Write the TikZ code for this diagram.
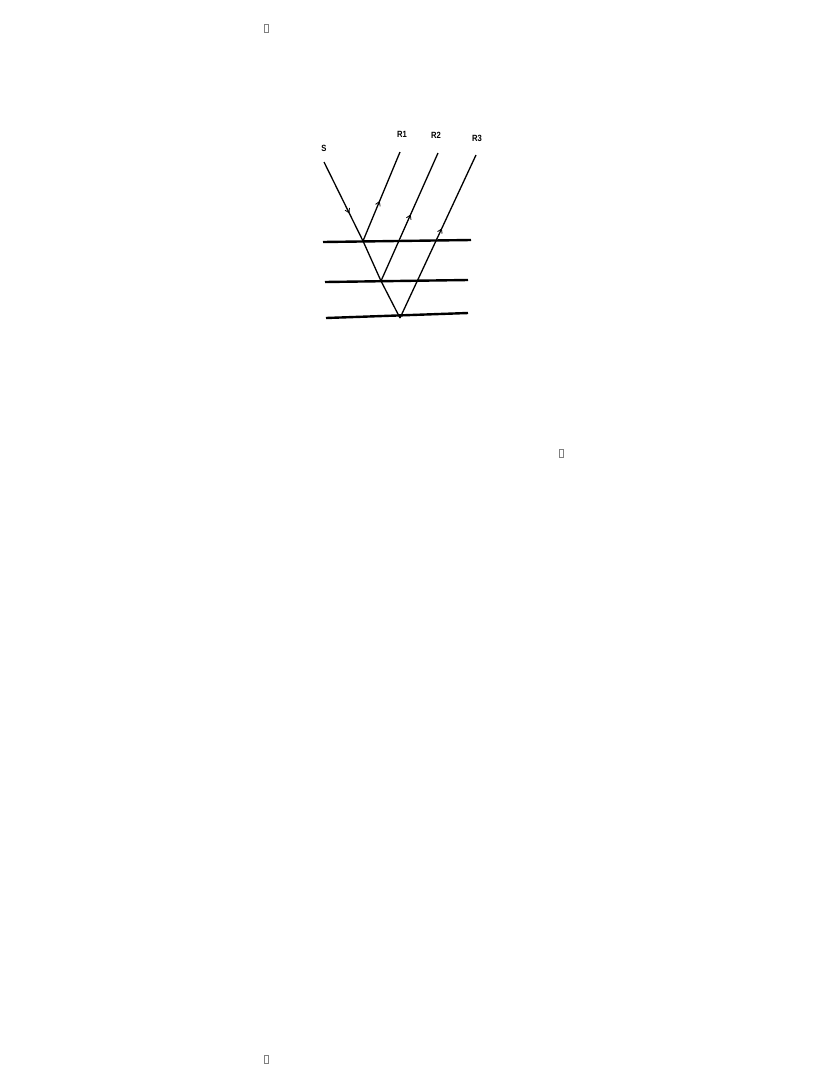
\documentclass[tikz,border=0pt]{standalone}
\usepackage{fontspec}
\setmainfont{Liberation Sans}
\usetikzlibrary{decorations.markings,arrows.meta}
\begin{document}
\begin{tikzpicture}[x=1pt,y=-1pt,
  ray/.style={line width=1.3pt},
  iface/.style={line width=2.4pt},
  lbl/.style={font=\bfseries\fontsize{9}{10}\selectfont,inner sep=0pt,xscale=0.85},
  ghost/.style={draw=gray,line width=0.5pt,minimum width=4pt,minimum height=8pt,inner sep=0pt},
  midarrow/.style={postaction={decorate},decoration={markings,mark=at position #1 with {\arrow{Straight Barb[length=4pt,width=5pt,line width=0.8pt]}}}}]
\useasboundingbox (0,0) rectangle (830,1090);
% interfaces
\coordinate (a1) at (323,242); \coordinate (b1) at (471,240);
\coordinate (a2) at (325,282); \coordinate (b2) at (468,280);
\coordinate (a3) at (326,318); \coordinate (b3) at (468,313);
\draw[iface] (a1) -- (b1);
\draw[iface] (a2) -- (b2);
\draw[iface] (a3) -- (b3);
% ray points
\coordinate (s0) at (324,162);
\coordinate (p1) at (363,241);
\coordinate (p2) at (381,281);
\coordinate (p3) at (400,318);
\coordinate (r1) at (400,152);
\coordinate (r2) at (438,153);
\coordinate (r3) at (476,155);
\draw[ray,midarrow=0.65] (s0) -- (p1);
\draw[ray] (p1) -- (p2) -- (p3);
\draw[ray,midarrow=0.45] (p1) -- (r1);
\draw[ray,midarrow=0.52] (p2) -- (r2);
\draw[ray,midarrow=0.55] (p3) -- (r3);
% labels
\node[lbl] (S) at (324,148) {S};
\node[lbl] (R1) at (402,134) {R1};
\node[lbl] (R2) at (436,135) {R2};
\node[lbl] (R3) at (477,138) {R3};
% placeholder boxes
\node[ghost] (g1) at (266,28) {};
\node[ghost] (g2) at (561,453) {};
\node[ghost] (g3) at (266,1059) {};
\end{tikzpicture}
\end{document}
